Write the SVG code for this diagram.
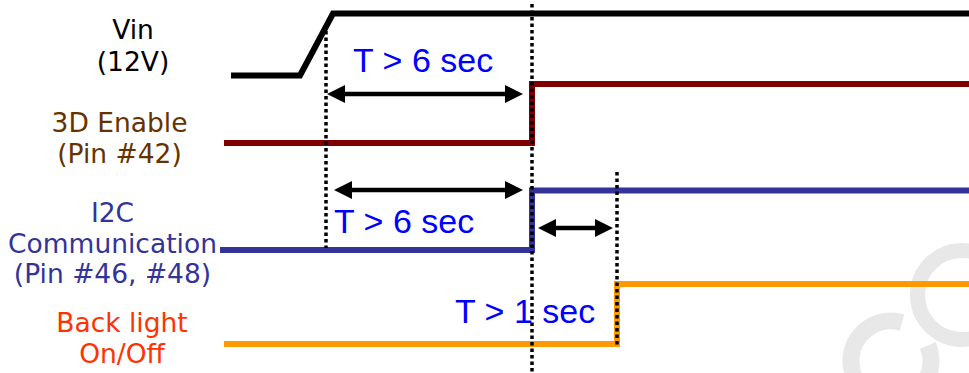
<svg xmlns="http://www.w3.org/2000/svg" width="969" height="373" viewBox="0 0 969 373">
<style>
.lbl{font-family:"DejaVu Sans","Verdana",sans-serif;font-size:26.5px;text-anchor:middle}
.t{font-family:"Liberation Sans","Arial",sans-serif;font-size:34px;fill:#0000FF}
.sig{fill:none;stroke-width:6;stroke-linejoin:miter}
.dot{stroke:#000;stroke-width:3.5;stroke-dasharray:3.5 3}
.arr{stroke:#000;stroke-width:4.5;marker-start:url(#ah);marker-end:url(#ah)}
.wm{fill:none;stroke:#e8e8e8}
</style>
<defs>
<marker id="ah" viewBox="0 0 18 18" markerWidth="18" markerHeight="18" refX="0" refY="9" markerUnits="userSpaceOnUse" orient="auto-start-reverse">
<path d="M0,0 L18,9 L0,18 z" fill="#000"/>
</marker>
</defs>
<rect width="969" height="373" fill="#fff"/>
<g id="watermark">
<circle class="wm" cx="962" cy="295" r="44.5" stroke-width="15"/>
<path class="wm" d="M927.8,345.4 A40,40 0 1 1 902,322.5" stroke-width="17"/>
</g>
<g id="vin">
<text class="lbl" x="133" y="39" fill="#000">Vin</text>
<text class="lbl" x="133" y="71" fill="#000">(12V)</text>
<path class="sig" stroke="#000" d="M231,75.5 L300,75.5 L333,13.5 L969,13.5"/>
</g>
<g id="enable3d">
<text class="lbl" x="119.5" y="132" fill="#663300">3D Enable</text>
<text class="lbl" x="119.5" y="163" fill="#663300">(Pin #42)</text>
<path class="sig" stroke="#800000" d="M224,143 L532,143 L532,84 L969,84"/>
</g>
<g id="i2c">
<text class="lbl" x="112.5" y="222" fill="#333399">I2C</text>
<text class="lbl" x="112.5" y="253" fill="#333399">Communication</text>
<text class="lbl" x="112.5" y="283" fill="#333399">(Pin #46, #48)</text>
<path class="sig" stroke="#333399" d="M220,250 L532,250 L532,190.5 L969,190.5"/>
</g>
<g id="backlight">
<text class="lbl" x="122" y="332" fill="#FF3300">Back light</text>
<text class="lbl" x="122" y="363" fill="#FF3300">On/Off</text>
<path class="sig" stroke="#FF9900" d="M224,344 L617,344 L617,284 L969,284"/>
</g>
<g id="connectors">
<line class="dot" x1="326" y1="31" x2="326" y2="248"/>
<line class="dot" x1="532" y1="4" x2="532" y2="373"/>
<line class="dot" x1="617" y1="172" x2="617" y2="347"/>
<line class="arr" x1="345" y1="94" x2="505" y2="94"/>
<line class="arr" x1="352" y1="190" x2="505" y2="190"/>
<line class="arr" x1="556" y1="228" x2="595" y2="228"/>
</g>
<g id="labels">
<text class="t" x="353" y="72">T &gt; 6 sec</text>
<text class="t" x="334" y="233">T &gt; 6 sec</text>
<text class="t" x="455" y="323">T &gt; 1 sec</text>
</g>
</svg>
